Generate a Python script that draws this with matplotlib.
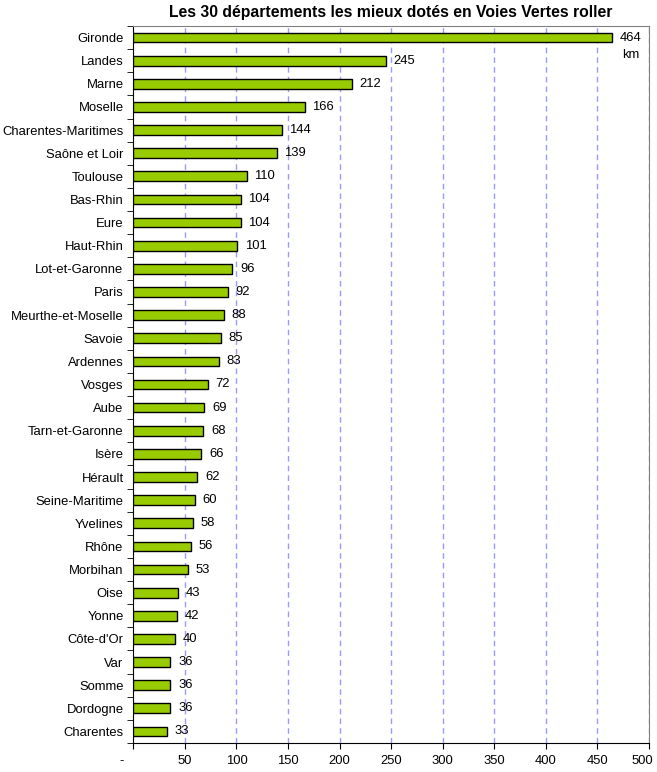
import matplotlib.pyplot as plt
import matplotlib.transforms as mtransforms
import numpy as np

plt.rcParams['font.family'] = ['Liberation Sans', 'DejaVu Sans']

departements = ["Gironde", "Landes", "Marne", "Moselle", "Charentes-Maritimes",
                "Saône et Loir", "Toulouse", "Bas-Rhin", "Eure", "Haut-Rhin",
                "Lot-et-Garonne", "Paris", "Meurthe-et-Moselle", "Savoie",
                "Ardennes", "Vosges", "Aube", "Tarn-et-Garonne", "Isère",
                "Hérault", "Seine-Maritime", "Yvelines", "Rhône", "Morbihan",
                "Oise", "Yonne", "Côte-d'Or", "Var", "Somme", "Dordogne",
                "Charentes"]
# 30 in the title, 31 rows in the picture
km = [464, 245, 212, 166, 144, 139, 110, 104, 104, 101, 96, 92, 88, 85, 83,
      72, 69, 68, 66, 62, 60, 58, 56, 53, 43, 42, 40, 36, 36, 36, 33]
xticks = [0, 50, 100, 150, 200, 250, 300, 350, 400, 450, 500]
xlabels = ["-"] + [str(t) for t in xticks[1:]]

fs = 9.4

fig = plt.figure(figsize=(6.57, 7.72), dpi=100)
ax = fig.add_axes([0.2029, 0.0376, 0.7849, 0.9287])

n = len(km)
y = np.arange(n)
ax.barh(y, km, height=0.42, color="#99CC00", edgecolor="black", linewidth=1, zorder=3)
ax.set_ylim(n - 0.5, -0.5)
ax.set_xlim(0, 500)

for yi, v in zip(y, km):
    ax.annotate(str(v), (v, yi), xytext=(5.5, 0), textcoords="offset points",
                va="center", ha="left", fontsize=fs, zorder=4)
ax.annotate("km", (km[0], 0), xytext=(7.4, -12.2), textcoords="offset points",
            va="center", ha="left", fontsize=fs)

ax.set_yticks(y)
ax.set_yticklabels(departements, fontsize=fs)
ax.set_yticks(np.arange(n + 1) - 0.5, minor=True)
ax.tick_params(axis="y", which="major", length=0, pad=7)
ax.tick_params(axis="y", which="minor", length=4, direction="out")

ax.set_xticks(xticks)
ax.set_xticklabels(xlabels, fontsize=fs)
ax.tick_params(axis="x", length=4, direction="out", pad=5)

# shift first ("-") and last ("500") labels like the original
labels = ax.get_xticklabels()
labels[0].set_transform(labels[0].get_transform() +
                        mtransforms.ScaledTranslation(-12 / 100, 0, fig.dpi_scale_trans))
labels[-1].set_transform(labels[-1].get_transform() +
                         mtransforms.ScaledTranslation(-7 / 100, 0, fig.dpi_scale_trans))

ax.grid(axis="x", color="#9999FF", linestyle=(0, (4, 3)), linewidth=1, zorder=1)
ax.xaxis.get_gridlines()[0].set_visible(False)

ax.spines["top"].set_color("#808080")
ax.spines["right"].set_color("#808080")
ax.spines["left"].set_color("black")
ax.spines["bottom"].set_color("black")

fig.text(0.594, 0.984, "Les 30 départements les mieux dotés en Voies Vertes roller",
         ha="center", va="center", fontsize=11.3, fontweight="bold")

fig.savefig("out.png", dpi=100)
